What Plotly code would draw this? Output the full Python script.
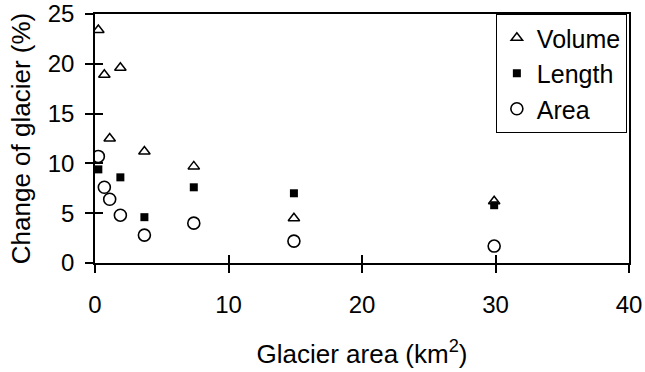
import plotly.graph_objects as go

# Data
vol_x = [0.25, 0.7, 1.1, 1.9, 3.7, 7.4, 14.9, 29.9]
vol_y = [23.4, 18.9, 12.5, 19.6, 11.2, 9.7, 4.5, 6.2]

len_x = [0.25, 1.9, 3.7, 7.4, 14.9, 29.9]
len_y = [9.4, 8.6, 4.6, 7.6, 7.0, 5.8]

area_x = [0.25, 0.7, 1.1, 1.9, 3.7, 7.4, 14.9, 29.9]
area_y = [10.7, 7.6, 6.4, 4.8, 2.8, 4.0, 2.2, 1.7]

x_ticks = [0, 10, 20, 30, 40]
y_ticks = [0, 5, 10, 15, 20, 25]

FONT = "Liberation Sans, Arial, sans-serif"

fig = go.Figure()
fig.add_trace(go.Scatter(
    x=vol_x, y=vol_y, mode="markers", name="Volume",
    marker=dict(symbol="triangle-up-open", size=10, color="black",
                line=dict(width=1.5, color="black")),
))
fig.add_trace(go.Scatter(
    x=len_x, y=len_y, mode="markers", name="Length",
    marker=dict(symbol="square", size=8, color="black",
                line=dict(width=0, color="black")),
))
fig.add_trace(go.Scatter(
    x=area_x, y=area_y, mode="markers", name="Area",
    marker=dict(symbol="circle-open", size=12, color="black",
                line=dict(width=1.6, color="black")),
))
# invisible helper trace for the inside half of the crossing ticks
fig.add_trace(go.Scatter(
    x=area_x, y=area_y, xaxis="x2", yaxis="y2", mode="markers",
    marker=dict(opacity=0), showlegend=False, hoverinfo="skip",
))

axis_common = dict(
    showgrid=False, zeroline=False, showline=True, linecolor="black",
    linewidth=1.5, ticks="outside", ticklen=8, tickwidth=1.5,
    tickcolor="black", tickfont=dict(family=FONT, size=24, color="black"),
    mirror=True, automargin=False, ticklabeloverflow="allow",
)

fig.update_layout(
    width=645, height=372,
    paper_bgcolor="white", plot_bgcolor="white",
    margin=dict(l=95, r=16, t=14, b=109),
    font=dict(family=FONT, size=24, color="black"),
    xaxis=dict(range=[0, 40], tickvals=x_ticks, ticklabelstandoff=11,
               title=dict(text="Glacier area (km<sup>2</sup>)", standoff=28,
                          font=dict(family=FONT, size=26, color="black")),
               **axis_common),
    yaxis=dict(range=[0, 25], tickvals=y_ticks, ticklabelstandoff=6,
               title=dict(text="Change of glacier (%)", standoff=10,
                          font=dict(family=FONT, size=26, color="black")),
               **axis_common),
    xaxis2=dict(overlaying="x", matches="x", anchor="y", side="bottom",
                range=[0, 40], tickvals=x_ticks, ticks="inside", ticklen=8,
                tickwidth=1.5, tickcolor="black", showticklabels=False,
                showgrid=False, zeroline=False, showline=False),
    yaxis2=dict(overlaying="y", matches="y", anchor="x", side="left",
                range=[0, 25], tickvals=y_ticks, ticks="inside", ticklen=8,
                tickwidth=1.5, tickcolor="black", showticklabels=False,
                showgrid=False, zeroline=False, showline=False),
    legend=dict(x=0.996, xanchor="right", y=1, yanchor="top",
                bordercolor="black", borderwidth=1, bgcolor="white",
                font=dict(family=FONT, size=25, color="black")),
    showlegend=True,
)

# remove the browser's default 8px body margin so the figure sits at (0, 0)
fig.write_html("out.html", config={"displayModeBar": False},
               post_script="document.body.style.margin='0px';")
